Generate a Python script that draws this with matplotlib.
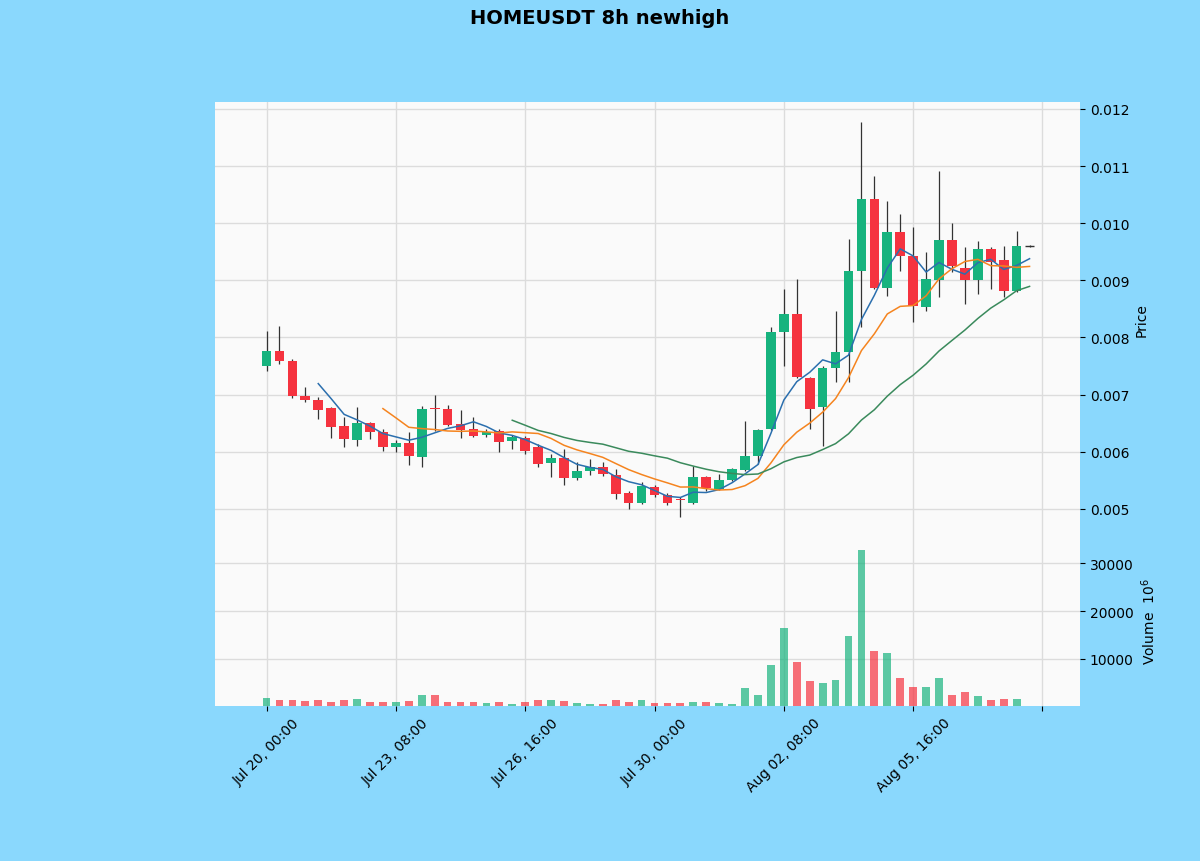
import numpy as np
import pandas as pd
import matplotlib
matplotlib.use("Agg")
import matplotlib.pyplot as plt

# 8h candles from Jul 20 00:00
start = "2021-07-20 00:00"
opens = [0.00750, 0.00776, 0.00759, 0.00698, 0.00691, 0.00677, 0.00645, 0.00621, 0.00650, 0.00635,
         0.00608, 0.00615, 0.00591, 0.00676, 0.00675, 0.00649, 0.00640, 0.00630, 0.00636, 0.00619,
         0.00624, 0.00608, 0.00580, 0.00589, 0.00554, 0.00567, 0.00573, 0.00560, 0.00528, 0.00510,
         0.00538, 0.00524, 0.00518, 0.00510, 0.00556, 0.00535, 0.00550, 0.00568, 0.00593, 0.00640,
         0.00810, 0.00841, 0.00729, 0.00678, 0.00747, 0.00775, 0.00917, 0.01043, 0.00887, 0.00985,
         0.00943, 0.00853, 0.00901, 0.00971, 0.00922, 0.00901, 0.00955, 0.00936, 0.00882, 0.00960]
highs = [0.00812, 0.00820, 0.00762, 0.00713, 0.00695, 0.00678, 0.00660, 0.00678, 0.00652, 0.00640,
         0.00620, 0.00635, 0.00680, 0.00700, 0.00682, 0.00673, 0.00661, 0.00640, 0.00640, 0.00630,
         0.00628, 0.00614, 0.00596, 0.00605, 0.00582, 0.00587, 0.00582, 0.00570, 0.00532, 0.00547,
         0.00541, 0.00527, 0.00521, 0.00575, 0.00558, 0.00561, 0.00572, 0.00654, 0.00640, 0.00818,
         0.00885, 0.00902, 0.00731, 0.00750, 0.00846, 0.00973, 0.01177, 0.01083, 0.01039, 0.01016,
         0.00993, 0.00950, 0.01091, 0.01000, 0.00958, 0.00969, 0.00958, 0.00960, 0.00987, 0.00961]
lows = [0.00741, 0.00754, 0.00694, 0.00687, 0.00657, 0.00624, 0.00608, 0.00610, 0.00622, 0.00601,
        0.00600, 0.00577, 0.00573, 0.00636, 0.00645, 0.00624, 0.00626, 0.00626, 0.00600, 0.00605,
        0.00596, 0.00573, 0.00556, 0.00542, 0.00550, 0.00560, 0.00558, 0.00518, 0.00500, 0.00508,
        0.00520, 0.00507, 0.00486, 0.00508, 0.00532, 0.00533, 0.00548, 0.00566, 0.00579, 0.00638,
        0.00750, 0.00729, 0.00640, 0.00610, 0.00722, 0.00722, 0.00818, 0.00885, 0.00873, 0.00917,
        0.00827, 0.00846, 0.00871, 0.00915, 0.00859, 0.00876, 0.00885, 0.00871, 0.00880, 0.00959]
closes = [0.00776, 0.00759, 0.00698, 0.00690, 0.00673, 0.00644, 0.00622, 0.00650, 0.00635, 0.00608,
          0.00615, 0.00593, 0.00675, 0.00674, 0.00647, 0.00638, 0.00628, 0.00634, 0.00617, 0.00626,
          0.00601, 0.00579, 0.00589, 0.00554, 0.00567, 0.00574, 0.00561, 0.00526, 0.00510, 0.00540,
          0.00524, 0.00510, 0.00516, 0.00556, 0.00537, 0.00550, 0.00570, 0.00593, 0.00638, 0.00810,
          0.00841, 0.00731, 0.00675, 0.00747, 0.00775, 0.00917, 0.01043, 0.00887, 0.00985, 0.00943,
          0.00855, 0.00902, 0.00971, 0.00925, 0.00901, 0.00955, 0.00932, 0.00882, 0.00960, 0.00960]
volumes = [1810, 1320, 1320, 1180, 1320, 1100, 1460, 1530, 980, 980,
           1100, 1180, 2500, 2500, 1100, 1100, 980, 770, 980, 625,
           980, 1320, 1460, 1250, 770, 625, 625, 1320, 980, 1320,
           833, 833, 833, 1100, 979, 833, 625, 3958, 2500, 8750,
           16400, 9440, 5350, 4930, 5625, 14720, 32770, 11600, 11180, 5980,
           4240, 4240, 6040, 2500, 3190, 2360, 1460, 1670, 1670, 150]
mav = [5, 10, 20]
mav_colors = ["#2b6fae", "#f5841f", "#3a8a5c"]

up_col = "#17b37e"
down_col = "#f5333f"


def main():
    o = np.array(opens)
    h = np.array(highs)
    l = np.array(lows)
    c = np.array(closes)
    v = np.array(volumes)
    n = len(c)
    x = np.arange(n)
    dates = pd.date_range(start, periods=n, freq="8h")
    up = c >= o
    cols = np.where(up, up_col, down_col)

    fig = plt.figure(figsize=(12, 8.62), dpi=100, facecolor="#8ad8fd")
    ax = fig.add_axes([0.179, 0.378, 0.721, 0.5025])
    axv = fig.add_axes([0.179, 0.18, 0.721, 0.198], sharex=ax)

    for a in (ax, axv):
        a.set_facecolor("#fafafa")
        a.grid(True, color="#dcdcdc", lw=1)
        a.set_axisbelow(True)
        for s in a.spines.values():
            s.set_visible(False)
        a.yaxis.tick_right()
        a.yaxis.set_label_position("right")
        a.tick_params(labelsize=10)

    # 蝋燭
    ax.vlines(x, l, h, color="#333333", lw=0.9, zorder=2)
    ax.bar(x, np.abs(c - o), bottom=np.minimum(o, c), width=0.75,
           color=cols, zorder=3)
    flat = np.abs(c - o) < 1e-6
    ax.hlines(c[flat], x[flat] - 0.375, x[flat] + 0.375, color="#333333", lw=1, zorder=3)

    # 移動平均
    s = pd.Series(c)
    for m, col in zip(mav, mav_colors):
        ax.plot(x, s.rolling(m).mean(), color=col, lw=1.1, zorder=4)

    ax.set_ylim(0.00454, 0.01212)
    ax.set_yticks(np.arange(0.005, 0.0121, 0.001))
    ax.set_yticklabels([f"{t:.3f}" for t in np.arange(0.005, 0.0121, 0.001)])
    ax.set_ylabel("Price", fontsize=10)
    plt.setp(ax.get_xticklabels(), visible=False)
    ax.tick_params(axis="x", length=0)

    # 出来高
    axv.bar(x, v, width=0.6, color=cols, alpha=0.7, zorder=3)
    axv.set_ylim(200, 35900)
    axv.set_yticks([10000, 20000, 30000])
    axv.set_yticklabels(["10000", "20000", "30000"])
    axv.set_ylabel("Volume  $10^{6}$", fontsize=10)

    ticks = np.arange(0, 61, 10)
    labels = [dates[t].strftime("%b %d, %H:%M") if t < n else "" for t in ticks]
    axv.set_xticks(ticks)
    axv.set_xticklabels(labels, rotation=45, ha="center")
    axv.set_xlim(-4, 62.9)

    fig.suptitle("HOMEUSDT 8h newhigh", fontsize=14, fontweight="bold", y=0.99)
    fig.savefig("out.png", dpi=100, facecolor=fig.get_facecolor())


if __name__ == '__main__':
    main()
